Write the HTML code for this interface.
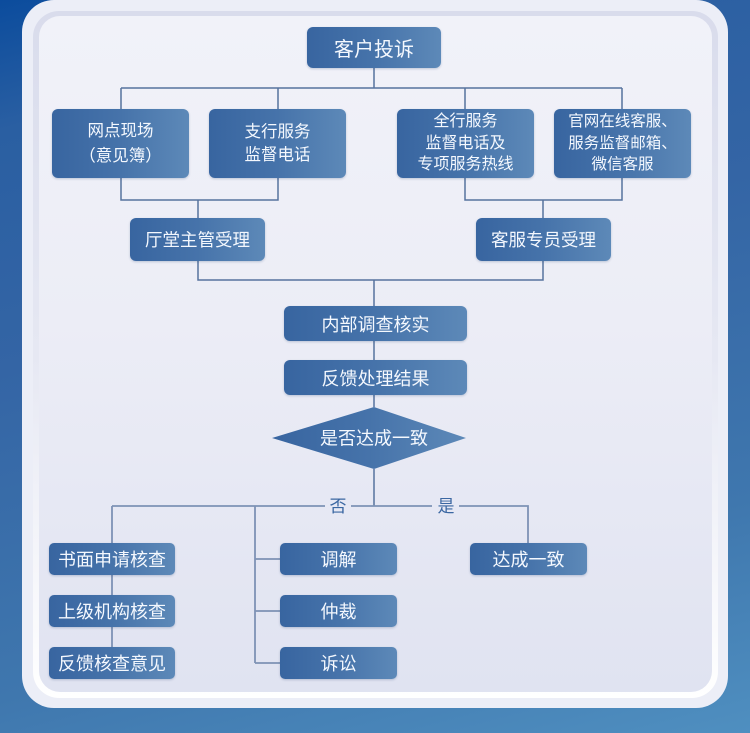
<!DOCTYPE html>
<html><head><meta charset="utf-8">
<style>
html,body{margin:0;padding:0;}
body{width:750px;height:733px;position:relative;overflow:hidden;
 background:linear-gradient(165deg,#0b4c9d 0%,#2a5fa2 14%,#3465a5 40%,#3f77ae 75%,#4f8fc0 100%);
 font-family:"Liberation Sans","Noto Sans CJK SC",sans-serif;}
.card{position:absolute;left:22px;top:0;width:706px;height:708px;border-radius:32px;background:#eceef7;}
.ring{position:absolute;left:33px;top:11px;width:685px;height:687px;border-radius:26px;
 background:linear-gradient(180deg,#d9dcec 0%,#e6e8f3 50%,#ffffff 100%);}
.inner{position:absolute;left:39px;top:16px;width:673px;height:676px;border-radius:21px;
 background:linear-gradient(180deg,#f1f2f9 0%,#ecedf6 45%,#e0e3f1 100%);}
.n{position:absolute;box-sizing:border-box;display:flex;align-items:center;justify-content:center;
 text-align:center;color:#f4f8fe;border-radius:6px;
 background:linear-gradient(90deg,#3865a0 0%,#4673aa 50%,#5d89b8 100%);
 box-shadow:0 1px 2px rgba(40,70,120,0.25);}
.cjk{font-family:"Noto Sans CJK SC",sans-serif;}
svg{position:absolute;left:0;top:0;}
.lbl{position:absolute;font-size:17px;color:#3b67a2;width:26px;text-align:center;line-height:20px;}
</style></head><body>
<div class="card"></div>
<div class="ring"></div>
<div class="inner"></div>

<svg width="750" height="733" viewBox="0 0 750 733">
 <g fill="none" stroke="#56739e" stroke-width="1.5">
  <path d="M374,68 V88 M121,88 H622 M121,88 V109 M278,88 V109 M465,88 V109 M622,88 V109"/>
  <path d="M121,178 V200 H278 V178 M198,200 V218"/>
  <path d="M465,178 V200 H622 V178 M543,200 V218"/>
  <path d="M198,261 V280 H543 V261 M374,280 V306"/>
  <path d="M374,341 V360 M374,395 V407 M374,469 V506"/>
 </g>
 <g fill="none" stroke="#7e92b5" stroke-width="1.8">
  <path d="M112,506 H325 M351,506 H432 M459,506 H528 V543"/>
  <path d="M112,506 V647"/>
  <path d="M255,506 V663 M255,559 H280 M255,611 H280 M255,663 H280"/>
 </g>
 <defs>
  <linearGradient id="dg" x1="0" x2="1" y1="0" y2="0">
   <stop offset="0" stop-color="#3865a0"/><stop offset="0.5" stop-color="#4673aa"/><stop offset="1" stop-color="#5d89b8"/>
  </linearGradient>
 </defs>
 <polygon points="272,438 374,407 466,438 374,469" fill="url(#dg)"/>
 <text x="374" y="444.5" text-anchor="middle" font-family="Liberation Sans, Noto Sans CJK SC, sans-serif" font-size="18" fill="#f4f8fe">是否达成一致</text>
</svg>

<div class="n" style="left:307px;top:27px;width:134px;height:41px;font-size:20px;">客户投诉</div>

<div class="n" style="left:52px;top:109px;width:137px;height:69px;font-size:16.5px;line-height:23px;"><div>网点现场<br><span class="cjk">（意见簿）</span></div></div>
<div class="n" style="left:209px;top:109px;width:137px;height:69px;font-size:16.5px;line-height:23px;"><div>支行服务<br>监督电话</div></div>
<div class="n" style="left:397px;top:109px;width:137px;height:69px;font-size:16px;line-height:21.5px;"><div>全行服务<br>监督电话及<br>专项服务热线</div></div>
<div class="n" style="left:554px;top:109px;width:137px;height:69px;font-size:15.5px;line-height:21.5px;"><div>官网在线客服、<br>服务监督邮箱、<br>微信客服</div></div>

<div class="n" style="left:130px;top:218px;width:135px;height:43px;font-size:17.5px;">厅堂主管受理</div>
<div class="n" style="left:476px;top:218px;width:135px;height:43px;font-size:17.5px;">客服专员受理</div>

<div class="n" style="left:284px;top:306px;width:183px;height:35px;font-size:18px;">内部调查核实</div>
<div class="n" style="left:284px;top:360px;width:183px;height:35px;font-size:18px;">反馈处理结果</div>

<div class="lbl" style="left:325px;top:497px;">否</div>
<div class="lbl" style="left:433px;top:497px;">是</div>

<div class="n" style="left:49px;top:543px;width:126px;height:32px;font-size:18px;border-radius:5px;">书面申请核查</div>
<div class="n" style="left:49px;top:595px;width:126px;height:32px;font-size:18px;border-radius:5px;">上级机构核查</div>
<div class="n" style="left:49px;top:647px;width:126px;height:32px;font-size:18px;border-radius:5px;">反馈核查意见</div>

<div class="n" style="left:280px;top:543px;width:117px;height:32px;font-size:18px;border-radius:5px;">调解</div>
<div class="n" style="left:280px;top:595px;width:117px;height:32px;font-size:18px;border-radius:5px;">仲裁</div>
<div class="n" style="left:280px;top:647px;width:117px;height:32px;font-size:18px;border-radius:5px;">诉讼</div>

<div class="n" style="left:470px;top:543px;width:117px;height:32px;font-size:18px;border-radius:5px;">达成一致</div>
</body></html>
